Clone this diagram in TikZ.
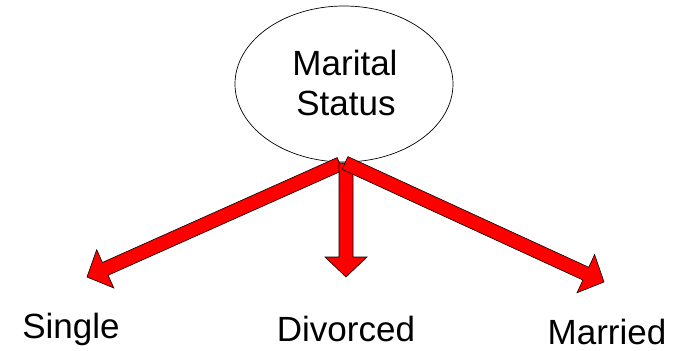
\documentclass[tikz,border=0pt]{standalone}
\usepackage{fontspec}
\setmainfont{Liberation Sans}
\usetikzlibrary{calc,shapes.geometric}

\tikzset{
  bubble/.style={ellipse, draw=black, line width=0.7pt, minimum width=218pt, minimum height=156pt, inner sep=0pt},
  word/.style={anchor=base, inner sep=0pt, text depth=0pt, font=\fontsize{35}{40}\selectfont},
  arrowbody/.style={fill=red, draw=black, line width=0.6pt, line join=miter},
}

% Block arrow from #1 to #2: shaft half-width 7pt, head half-width 21pt, head length 20pt
\newcommand\fatarrow[2]{%
  \coordinate (#1-#2-hb) at ($(#2)!20pt!(#1)$);
  \draw[arrowbody]
    ($(#1)!7pt!90:(#2)$) -- ($(#1-#2-hb)!7pt!90:(#2)$) -- ($(#1-#2-hb)!21pt!90:(#2)$)
    -- (#2)
    -- ($(#1-#2-hb)!21pt!-90:(#2)$) -- ($(#1-#2-hb)!7pt!-90:(#2)$) -- ($(#1)!7pt!-90:(#2)$)
    -- cycle;
}

\begin{document}
\begin{tikzpicture}[x=1pt, y=-1pt]
  \useasboundingbox (0,0) rectangle (678,351);

  \node[bubble] (ms) at (344,84) {};
  \node[word] (marital) at (345,75) {Marital};
  \node[word] (status) at (346,115) {Status};

  \node[word] (single) at (71,338) {Single};
  \node[word] (divorced) at (346,341) {Divorced};
  \node[word] (married) at (607,344.5) {Married};

  % arrow start and end points
  \coordinate (sL) at (340,164);
  \coordinate (tL) at (87,277);
  \coordinate (sD) at (346,163);
  \coordinate (tD) at (346,277);
  \coordinate (sR) at (345,163);
  \coordinate (tR) at (604,282);

  \fatarrow{sL}{tL}
  \fatarrow{sD}{tD}
  \fatarrow{sR}{tR}
\end{tikzpicture}
\end{document}
